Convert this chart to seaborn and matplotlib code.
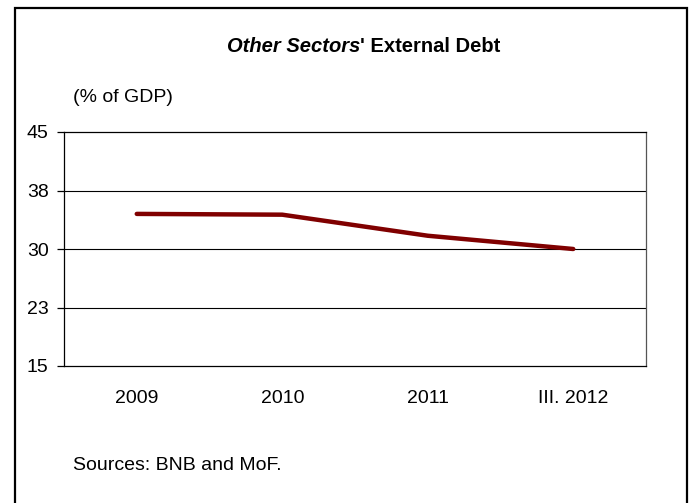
import matplotlib
matplotlib.use("Agg")
import matplotlib.pyplot as plt
import seaborn as sns
import pandas as pd
from matplotlib.patches import Rectangle

# data
periods = ["2009", "2010", "2011", "III. 2012"]
debt_pct_gdp = [34.5, 34.4, 31.7, 30.0]
y_ticks = [15, 22.5, 30, 37.5, 45]
y_tick_labels = ["15", "23", "30", "38", "45"]

df = pd.DataFrame({"period": periods, "debt": debt_pct_gdp})

sns.set_style("white")
plt.rcParams["font.family"] = ["Liberation Sans", "DejaVu Sans"]
plt.rcParams["text.color"] = "black"
plt.rcParams["xtick.color"] = "black"
plt.rcParams["ytick.color"] = "black"

fig = plt.figure(figsize=(6.93, 5.03), dpi=100)
ax = fig.add_axes([64 / 693, 1 - 366 / 503, (646 - 64) / 693, (366 - 132) / 503])

sns.lineplot(data=df, x="period", y="debt", ax=ax, color="#800000", linewidth=3.2, sort=False)

ax.set_xlim(-0.5, len(periods) - 0.5)
ax.set_ylim(y_ticks[0], y_ticks[-1])
ax.set_yticks(y_ticks)
ax.set_yticklabels(y_tick_labels)
ax.set_xticks(range(len(periods)))
ax.set_xticklabels(periods)
ax.set_xticks([i - 0.5 for i in range(len(periods) + 1)], minor=True)
ax.set_xlabel("")
ax.set_ylabel("")

for y in y_ticks[1:-1]:
    ax.axhline(y, color="black", linewidth=0.8, zorder=0)

for s in ax.spines.values():
    s.set_visible(True)
    s.set_color("black")
    s.set_linewidth(0.9)
ax.spines["right"].set_color("#555555")

ax.tick_params(axis="x", which="major", length=0, pad=17, labelsize=14, labelcolor="black")
ax.tick_params(axis="x", which="minor", length=5, width=0.9, direction="out", color="black")
ax.tick_params(axis="y", which="major", length=5, width=0.9, direction="out", pad=6,
               labelsize=14, color="black", labelcolor="black")
ax.tick_params(bottom=True, left=True)

# title: italic part plus plain bold part
t1 = fig.text(227 / 693, 1 - 47 / 503, "Other Sectors", fontsize=14.5, fontweight="bold",
              fontstyle="italic", ha="left", va="center", color="black")
fig.canvas.draw()
bb = t1.get_window_extent()
fig.text(bb.x1 / fig.bbox.width, 1 - 47 / 503, "' External Debt", fontsize=14.5,
         fontweight="bold", ha="left", va="center", color="black")

fig.text(73 / 693, 1 - 98 / 503, "(% of GDP)", fontsize=14, ha="left", va="center", color="black")
fig.text(73 / 693, 1 - 466 / 503, "Sources: BNB and MoF.", fontsize=14, ha="left", va="center",
         color="black")

# frame around the figure
fig.patches.append(Rectangle((15 / 693, -0.05), (687 - 15) / 693, 1.05 - 8 / 503,
                             transform=fig.transFigure, fill=False, edgecolor="black",
                             linewidth=1.6))

fig.savefig("out.png", dpi=100)
